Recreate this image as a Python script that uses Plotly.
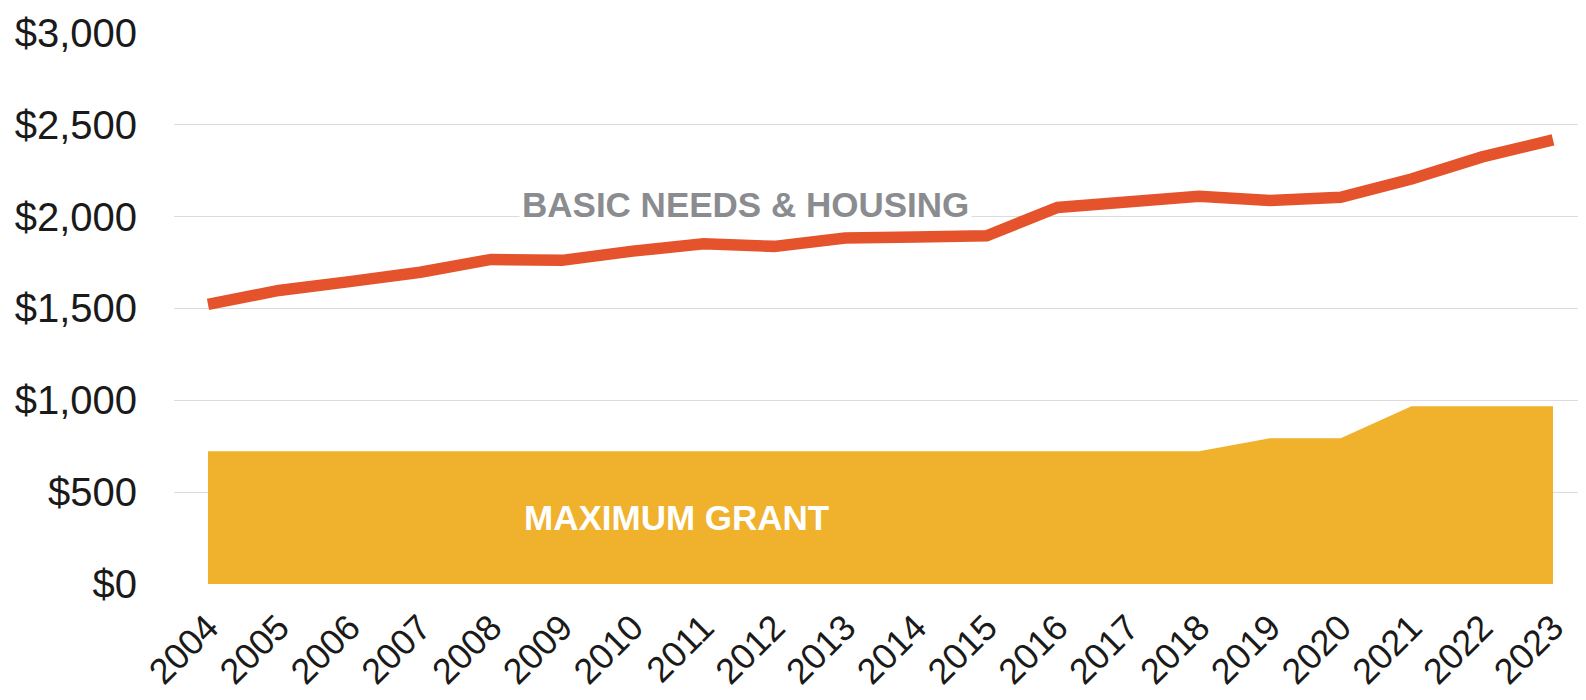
import plotly.graph_objects as go

years = list(range(2004, 2024))
basic_needs = [1522, 1598, 1646, 1697, 1767, 1762, 1812, 1852, 1838, 1884,
               1889, 1896, 2050, 2075, 2111, 2088, 2105, 2205, 2325, 2418]
max_grant = [723, 723, 723, 723, 723, 723, 723, 723, 723, 723,
             723, 723, 723, 723, 723, 794, 794, 967, 967, 967]
y_ticks = [0, 500, 1000, 1500, 2000, 2500, 3000]
y_tick_text = ["$0", "$500", "$1,000", "$1,500", "$2,000", "$2,500", "$3,000"]

FONT = "Liberation Sans, Arial, sans-serif"

fig = go.Figure()
fig.add_trace(go.Scatter(
    x=years, y=max_grant, mode="lines", fill="tozeroy",
    line=dict(width=0, color="#F0B22D"), fillcolor="#F0B22D",
    showlegend=False, hoverinfo="skip"))
fig.add_trace(go.Scatter(
    x=years, y=basic_needs, mode="lines",
    line=dict(width=11.5, color="#E4532C"),
    showlegend=False))

fig.add_annotation(x=2011.6, y=2064, xref="x", yref="y",
                   text="<b>BASIC NEEDS &amp; HOUSING</b>", showarrow=False,
                   font=dict(family=FONT, size=35, color="#8A8C8F"),
                   bgcolor="white", borderpad=2)
fig.add_annotation(x=2010.62, y=360, xref="x", yref="y",
                   text="<b>MAXIMUM GRANT</b>", showarrow=False,
                   font=dict(family=FONT, size=35, color="white"))

fig.update_layout(
    width=1578, height=692,
    margin=dict(l=166, r=0, t=24, b=116),
    plot_bgcolor="white", paper_bgcolor="white",
    font=dict(family=FONT, color="#1A1A1A"),
)
fig.update_xaxes(
    range=[2003.52, 2023.466], tickmode="array", tickvals=years,
    ticktext=[str(y) for y in years], tickangle=-45,
    tickfont=dict(size=36, family=FONT, color="#1A1A1A"),
    showgrid=False, zeroline=False, showline=False, ticks="",
    ticklabelstandoff=14, automargin=False, ticklabeloverflow="allow")
fig.update_yaxes(
    range=[0, 3005], tickmode="array", tickvals=y_ticks, ticktext=y_tick_text,
    tickfont=dict(size=40, family=FONT, color="#1A1A1A"),
    showgrid=True, gridcolor="#DCDCDC", gridwidth=1,
    zeroline=False, showline=False, ticks="", ticklabelstandoff=36,
    automargin=False, ticklabeloverflow="allow")

fig.write_html("out.html")
